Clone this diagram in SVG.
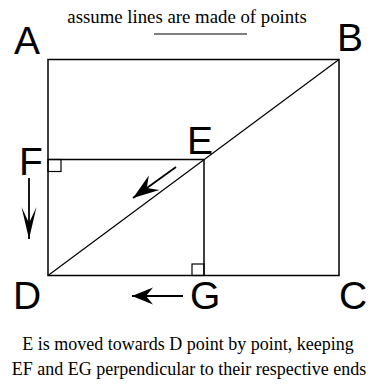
<svg xmlns="http://www.w3.org/2000/svg" width="376" height="385" viewBox="0 0 376 385">
  <style>
    .ln{stroke:#000;stroke-width:1.5;fill:none}
    .thin{stroke:#000;stroke-width:1.2;fill:none}
    .lbl{font-family:"Liberation Sans",Arial,sans-serif;font-size:39px;fill:#000}
    .cap{font-family:"Liberation Serif",serif;font-size:18px;fill:#000;text-anchor:middle}
    .arr{stroke:#000;stroke-width:1.8;fill:none}
  </style>
  <defs>
    <marker id="hDown" markerUnits="userSpaceOnUse" orient="auto" markerWidth="40" markerHeight="20" refX="32" refY="8" viewBox="0 0 40 20" overflow="visible">
      <path d="M32,8 L0,0.5 L16,8 L0,15.5 Z" fill="#000"/>
    </marker>
    <marker id="hLeft" markerUnits="userSpaceOnUse" orient="auto" markerWidth="30" markerHeight="20" refX="21" refY="9" viewBox="0 0 30 20" overflow="visible">
      <path d="M21,9 L0,0.5 L7,9 L0,17.5 Z" fill="#000"/>
    </marker>
    <marker id="hDiag" markerUnits="userSpaceOnUse" orient="auto" markerWidth="30" markerHeight="20" refX="26" refY="9" viewBox="0 0 30 20" overflow="visible">
      <path d="M26,9 L0,0 L9,9 L0,18 Z" fill="#000"/>
    </marker>
  </defs>

  <text class="cap" x="187" y="23" style="font-size:18.8px">assume lines are made of points</text>
  <line x1="154" y1="34" x2="247" y2="34" class="thin"/>

  <g id="rectangle">
    <rect x="48" y="59.5" width="291" height="216" class="ln"/>
  </g>
  <g id="connectors">
    <line id="DB" x1="48" y1="275.5" x2="339" y2="59.5" class="thin"/>
    <line id="FE" x1="48" y1="159.5" x2="204" y2="159.5" class="ln"/>
    <line id="EG" x1="204" y1="159.5" x2="204" y2="275.5" class="ln"/>
    <rect x="48" y="159.5" width="13" height="12" class="thin"/>
    <rect x="192" y="264" width="12" height="11.5" class="thin"/>
    <line x1="29" y1="178" x2="29" y2="239" class="arr" marker-end="url(#hDown)"/>
    <line x1="183" y1="296" x2="132" y2="296" class="arr" marker-end="url(#hLeft)"/>
    <line x1="176" y1="167" x2="133" y2="198" class="arr" marker-end="url(#hDiag)"/>
  </g>

  <g id="A"><text class="lbl" x="14" y="54">A</text></g>
  <g id="B"><text class="lbl" x="337" y="51">B</text></g>
  <g id="E"><text class="lbl" x="187" y="154">E</text></g>
  <g id="F"><text class="lbl" x="19" y="175">F</text></g>
  <g id="D"><text class="lbl" x="13" y="309">D</text></g>
  <g id="G"><text class="lbl" x="190" y="309">G</text></g>
  <g id="C"><text class="lbl" x="339" y="309">C</text></g>

  <text class="cap" x="188" y="350">E is moved towards D point by point, keeping</text>
  <text class="cap" x="189" y="375">EF and EG perpendicular to their respective ends</text>
</svg>
